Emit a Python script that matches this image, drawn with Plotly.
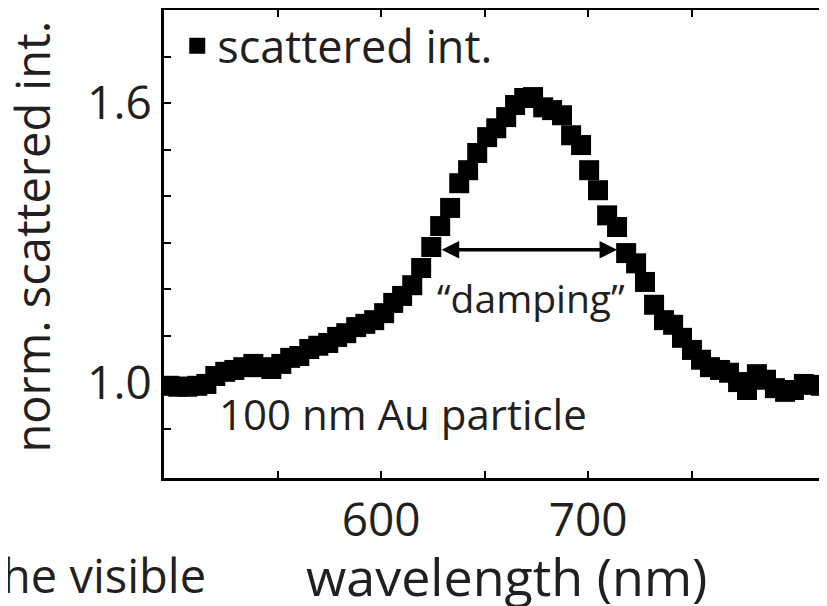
import plotly.graph_objects as go

# Data: wavelength (nm) vs normalized scattered intensity
wavelength = [497.6, 501.9, 506.3, 511.1, 515.5, 519.8, 524.6, 529.0, 533.3, 538.2,
              542.5, 546.9, 551.7, 556.0, 560.4, 565.2, 569.6, 574.4, 578.7, 583.1,
              587.9, 592.3, 596.6, 601.4, 605.8, 610.1, 615.0, 619.3, 624.2, 628.5,
              633.3, 637.7, 642.0, 646.4, 651.2, 655.6, 660.4, 664.7, 669.1, 673.4,
              678.3, 682.6, 687.4, 691.8, 696.6, 700.5, 704.8, 709.2, 714.0, 718.4,
              723.2, 727.5, 731.9, 736.7, 741.1, 745.4, 750.2, 754.6, 758.9, 763.8,
              768.1, 772.5, 776.8, 781.6, 786.0, 790.3, 795.2, 799.5, 804.3, 808.7,
              812.6]
intensity = [0.993, 0.991, 0.991, 0.993, 0.997, 1.014, 1.023, 1.027, 1.033, 1.040,
             1.033, 1.029, 1.040, 1.053, 1.057, 1.072, 1.079, 1.085, 1.098, 1.106,
             1.119, 1.126, 1.134, 1.149, 1.171, 1.186, 1.209, 1.246, 1.291, 1.336,
             1.375, 1.428, 1.456, 1.493, 1.527, 1.546, 1.570, 1.596, 1.611, 1.613,
             1.591, 1.585, 1.574, 1.531, 1.510, 1.456, 1.413, 1.359, 1.334, 1.278,
             1.256, 1.216, 1.167, 1.134, 1.124, 1.096, 1.070, 1.049, 1.033, 1.027,
             1.021, 1.001, 0.984, 1.018, 1.006, 0.988, 0.980, 0.984, 0.997, 0.995,
             0.993]

x_tickvals = [550, 600, 650, 700, 750]
x_ticktext = ["", "600", "", "700", ""]
y_tickvals = [0.9, 1.0, 1.1, 1.2, 1.3, 1.4, 1.5, 1.6, 1.7]
y_ticktext = ["", "1.0", "", "", "", "", "", "1.6", ""]

damping_left = 628.5
damping_right = 714.0
damping_level = 1.285

FONT = "Open Sans"
TXT = "#231f20"

fig = go.Figure()
fig.add_trace(go.Scatter(
    x=wavelength, y=intensity, mode="markers",
    name="scattered int.",
    marker=dict(symbol="square", size=20, color="black", line=dict(width=0)),
))

# double-headed arrow for damping
fig.add_annotation(
    x=damping_right, y=damping_level, ax=damping_left, ay=damping_level,
    xref="x", yref="y", axref="x", ayref="y",
    text="", showarrow=True, arrowhead=2, arrowside="end+start",
    arrowsize=1.0, arrowwidth=3.5, arrowcolor="black",
)
fig.add_annotation(x=672.5, y=1.183, xref="x", yref="y", text="“damping”",
                   showarrow=False, font=dict(family=FONT, size=39, color=TXT))
fig.add_annotation(x=0.080, y=0.933, xref="paper", yref="y", text="100 nm Au particle",
                   xanchor="left", showarrow=False,
                   font=dict(family=FONT, size=42, color=TXT))
# axis titles as annotations for exact placement
fig.add_annotation(x=0.518, y=-0.209, xref="paper", yref="paper", text="wavelength (nm)",
                   xanchor="center", yanchor="middle", showarrow=False,
                   font=dict(family=FONT, size=52, color=TXT))
fig.add_annotation(x=-0.1994, y=0.516, xref="paper", yref="paper", text="norm. scattered int.",
                   textangle=-90, xanchor="center", yanchor="middle", showarrow=False,
                   font=dict(family=FONT, size=47, color=TXT))
# fragment of neighbouring panel's label
fig.add_annotation(x=-0.2477, y=-0.207, xref="paper", yref="paper", text="he visible",
                   xanchor="left", yanchor="middle", showarrow=False,
                   font=dict(family=FONT, size=47, color=TXT))

axis_common = dict(
    showline=True, linecolor="black", linewidth=3, mirror="ticks",
    ticks="inside", ticklen=7, tickwidth=2, tickcolor="black",
    showgrid=False, zeroline=False, automargin=False,
    tickfont=dict(family=FONT, size=46, color=TXT),
)

# the page body adds an 8px offset, so the figure is shifted/sized to compensate
fig.update_layout(
    width=819, height=598,
    margin=dict(l=156, r=1, t=2, b=128),
    paper_bgcolor="white", plot_bgcolor="white",
    showlegend=True,
    legend=dict(x=0.02, y=1.0, xanchor="left", yanchor="top",
                bgcolor="rgba(0,0,0,0)", font=dict(family=FONT, size=45, color=TXT),
                itemwidth=30, tracegroupgap=0),
    xaxis=dict(range=[495, 815], tickvals=x_tickvals, ticktext=x_ticktext, **axis_common),
    yaxis=dict(range=[0.795, 1.80], tickvals=y_tickvals, ticktext=y_ticktext, **axis_common),
)

fig.write_html("out.html")
